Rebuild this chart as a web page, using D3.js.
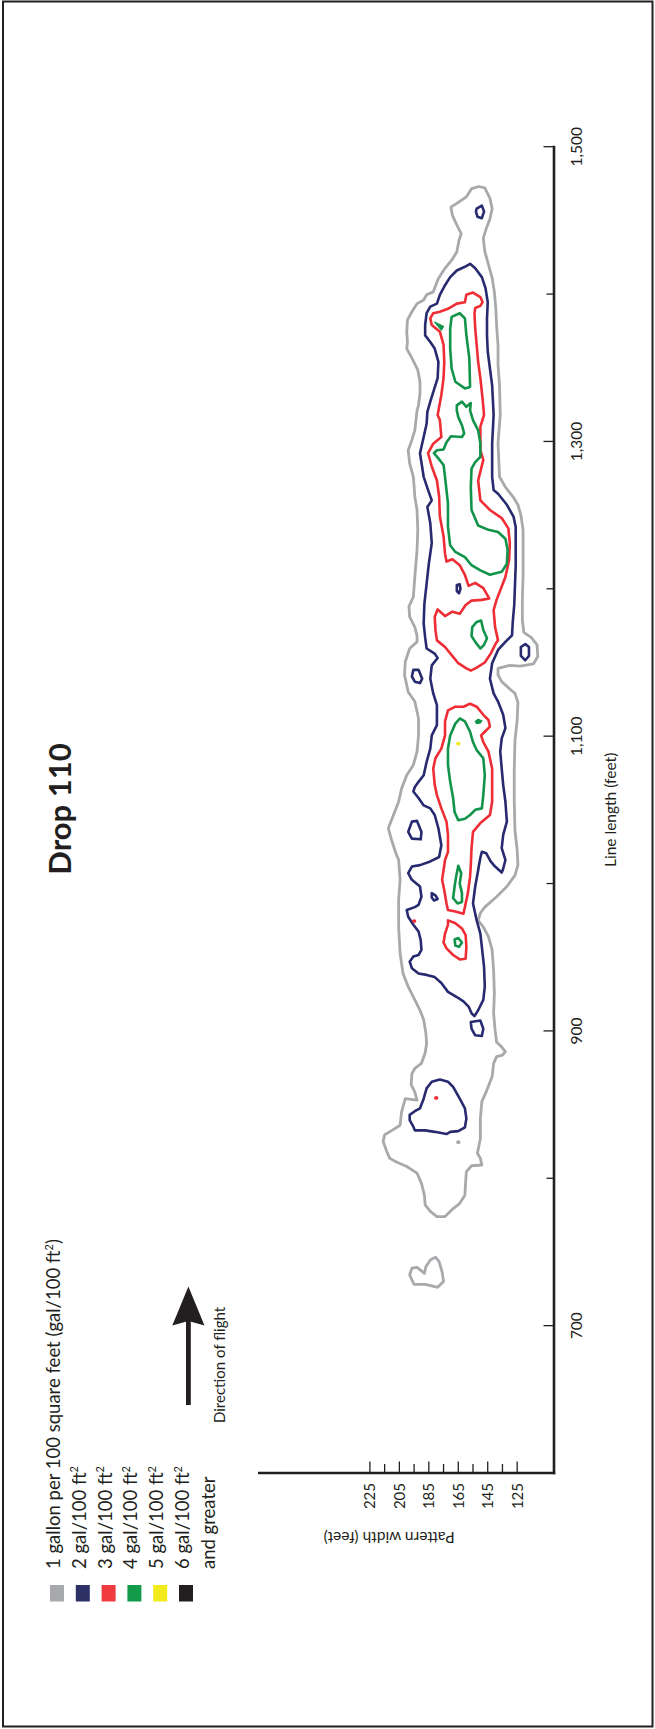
<!DOCTYPE html>
<html>
<head>
<meta charset="utf-8">
<script src="https://cdn.jsdelivr.net/npm/d3@7"></script>
<style>
  html, body { margin: 0; padding: 0; background: #fff; }
  svg { display: block; }
  text { font-family: Lato, "Open Sans", sans-serif; fill: #231f20; }
</style>
</head>
<body>
<svg id="chart" width="655" height="1729"></svg>
<script>
// Drop 110: ground coverage contours, pattern width (ft) against line length (ft)

const lengthTicksMajor = [700, 900, 1100, 1300, 1500];
const lengthTicksMinor = [800, 1000, 1200, 1400];
const widthTicksMajor = [225, 205, 185, 165, 145, 125];
const widthTicksMinor = [215, 195, 175, 155, 135];

const legendLabels = [
  "1 gallon per 100 square feet (gal/100 ft²)",
  "2 gal/100 ft²",
  "3 gal/100 ft²",
  "4 gal/100 ft²",
  "5 gal/100 ft²",
  "6 gal/100 ft²"
];
const legendColors = ["#a7a9ac", "#2e3166", "#ef3b3f", "#139a4a", "#f2ea1a", "#231f20"];

// Contour rings, each point is [pattern width ft, line length ft]
// 1 gal/100 ft²
const gal1Main = [[151,1473],[147,1472],[143.5,1465],[142,1458],[143.5,1451],[146,1444.5],[148,1438],[147,1429],[144.5,1420],[142,1411],[140.5,1401.5],[139.5,1390],[139,1379],[138,1365],[138,1352],[137,1338],[136.5,1318],[138,1299],[137,1276],[133,1269],[127.5,1262],[124.5,1257],[122.5,1250],[121,1240],[121,1226],[121,1209],[121.5,1192],[121.5,1179],[120.5,1170.5],[115.5,1167],[111.5,1162],[111,1154],[114,1149],[123,1147.5],[130,1148],[138,1146],[138,1141.5],[135.5,1137],[130,1132],[126.5,1129],[124.5,1123],[125,1111],[126.5,1097],[127,1077],[127,1056.5],[126.5,1036],[125,1022.5],[124.5,1012.5],[126.5,1005.5],[132,998],[139,991],[147,984],[150,980],[151.5,975],[148,970.5],[144.5,964],[142,955],[141,941],[140.5,925.5],[141,912],[140,900.5],[139,892.5],[135.5,889],[133,886],[135,883.5],[139,882.5],[141,878],[142,869],[145.5,860],[149,852],[150,840.5],[150,827],[152,817],[150,813.5],[149,809],[156,808.5],[159.5,804.5],[160,797.5],[160.5,788.5],[164,783],[169.5,778.5],[174,774],[179.5,774],[184,777.5],[187.5,782],[188,788.5],[190,796.5],[193,803.5],[200,808],[207,811],[211.5,813.5],[213.5,818],[216,825],[215,829.5],[210,832.5],[204.5,836],[203.5,845],[201,854],[193,853],[194.5,858.5],[197,863.5],[196.5,871],[194.5,874.5],[190,878],[187.5,885],[186.5,891.5],[187,898.5],[188.5,907.5],[191,914],[194.5,921],[199,930],[202.5,939],[204.5,952.5],[205.5,970.5],[205.5,989],[204.5,1002.5],[205.5,1016],[207,1019.5],[210,1028.5],[212.5,1037.5],[209,1046.5],[205.5,1055.5],[203.5,1064.5],[200,1073.5],[195.5,1080.5],[193,1089.5],[192,1100.5],[192,1112],[194.5,1123.5],[199,1130],[201.5,1141.5],[201,1150.5],[198,1159.5],[193,1164],[193,1168],[194.5,1174],[198,1181],[198.5,1188],[195.5,1194.5],[194.5,1208],[193,1226.5],[192.5,1240],[193,1253.5],[194.5,1262.5],[195.5,1276],[198,1285],[199,1294],[196.5,1301],[194.5,1307.5],[193,1321],[192,1324.5],[191,1332.5],[191,1340.5],[192.5,1348.5],[196.5,1356.5],[200,1363],[199.5,1367.5],[200,1374.5],[199.5,1382.5],[196.5,1388],[193,1393.5],[188.5,1396],[186.5,1399.5],[182,1401.5],[178.5,1410.5],[174,1417.5],[169.5,1423],[166,1428.5],[164.5,1436.5],[163,1441],[166.5,1448],[169,1453.5],[170,1459],[166,1461.5],[159.5,1466],[156,1471.5]];
const gal1Tail = [[198,734.5],[196.5,739],[193,739.5],[188,735.5],[187,740],[184,744.5],[180.5,746.5],[178,743.5],[176,736.5],[175,730],[179,726],[183,727],[187.5,728],[195,728],[196.5,731]];
const gal1Specks = [[165,824.5]];

// 2 gal/100 ft²
const gal2Main = [[157,1420.5],[153.5,1417.5],[149,1411.5],[146.5,1404],[145,1394.5],[145.5,1383.5],[145.5,1372],[145,1361],[143.5,1349.5],[142,1338],[141,1318],[142,1298.5],[142,1276],[141,1267],[138,1264.5],[132,1257],[127.5,1249],[126,1242],[126,1229.5],[126,1216],[126.5,1202.5],[127,1189],[128,1177.5],[128.5,1168.5],[133,1164],[138,1158.5],[142,1149.5],[143.5,1139],[141,1129],[138,1123.5],[134.5,1114.5],[133,1105.5],[135.5,1098.5],[136.5,1089.5],[135.5,1078],[134.5,1067],[133,1055.5],[132,1042],[134.5,1033],[135.5,1024],[133,1016],[134.5,1010],[135.5,1007.5],[140,1011.5],[143,1015],[146,1020.5],[149,1021.5],[150,1017.5],[151,1012],[151.5,1009],[153.5,998],[155,986.5],[152.5,975],[150,966],[149,957],[147.5,943.5],[147,930],[148,921],[151.5,914],[154,910],[156,912],[158,916.5],[161.5,920],[166,923],[172,926.5],[176.5,932.5],[181,936.5],[186.5,938],[192,939],[196.5,942.5],[198,947],[195.5,950.5],[192,951.5],[190,955],[190.5,961.5],[192,967.5],[195.5,972],[199,977.5],[200,982],[194.5,984],[192,985.5],[190,991],[191,998],[196.5,1002.5],[199,1007],[196.5,1011.5],[191,1012.5],[184,1015],[178,1018],[176.5,1026],[178.5,1037.5],[181,1046.5],[184,1051],[188.5,1053],[192,1058],[195.5,1062.5],[194.5,1065.5],[192,1069],[188.5,1073.5],[186.5,1082.5],[184,1091.5],[183,1100.5],[179.5,1107.5],[179.5,1121],[182,1129],[184,1139],[183,1148],[179,1153],[181,1156],[186.5,1159.5],[187.5,1167],[188.5,1176.5],[188,1190],[186.5,1203.5],[185,1217],[183,1231],[184,1244.5],[186,1255.5],[183,1260],[185.5,1267],[188.5,1276],[191,1292],[188.5,1303],[186.5,1312],[186,1320],[184,1327],[182,1333.5],[179,1343],[178.5,1354],[181,1363],[184,1367.5],[187.5,1372],[187.5,1379],[186.5,1387],[184,1391.5],[179.5,1393.5],[177.5,1399.5],[174,1406],[170.5,1411.5],[166,1416],[160.5,1418.5]];
const gal2Top = [[152.5,1458],[149,1460],[147.5,1456],[149,1451.5],[152,1452.5],[153,1456]];
const gal2Mid = [[166,1202.5],[164,1203],[163.5,1200],[164.5,1197],[166,1198.5]];
const gal2East = [[122.5,1160.5],[119.5,1162.5],[117,1160.5],[117,1154.5],[119.5,1151.5],[122.5,1154.5]];
const gal2West = [[195.5,1145],[192,1145],[189.5,1139],[191,1136],[194.5,1137],[196.5,1140.5]];
const gal2WestLow = [[196.5,1042],[193,1042.5],[190,1035],[190.5,1030],[196.5,1030.5],[199,1035]];
const gal2Dot = [[183,993.5],[180.5,992],[179,989.5],[181.5,988.5],[183,990.5]];
const gal2Tip = [[156.5,906],[150,907],[148,901.5],[149,896.5],[153.5,897],[156,901.5]];
const gal2South = [[183,865.5],[177.5,867],[172,865.5],[168.5,862],[164,854],[160.5,847.5],[159.5,840.5],[160.5,834.5],[165,832],[170.5,831.5],[173,830],[181,831.5],[187.5,832.5],[194.5,832.5],[195.5,835],[198,839.5],[198,843],[194.5,845.5],[191,847.5],[188.5,854],[186.5,861]];

// 3 gal/100 ft²
const gal3Upper = [[155,1401],[150,1398],[148.5,1394.5],[150,1392],[153.5,1390.5],[154,1387],[153.5,1376.5],[152.5,1365.5],[151.5,1354],[150,1343],[148.5,1329],[147.5,1318],[150,1310],[150,1294],[148,1287.5],[150,1279.5],[151.5,1273.5],[150,1260],[143.5,1253.5],[135.5,1248],[131,1241],[130,1231],[130.5,1219.5],[133,1208],[135.5,1201.5],[139,1192.5],[141,1185.5],[140,1174],[138,1165],[139.5,1163],[143,1156],[147,1150],[152.5,1146.5],[156.5,1144.5],[159.5,1146],[165,1149.5],[169.5,1155],[174,1160.5],[179.5,1165],[180.5,1172],[181,1181],[179,1186],[174,1181.5],[169,1184.5],[164,1183],[160,1189],[156,1192],[149,1192.5],[144,1193.5],[148,1200.5],[153.5,1204],[158,1202],[160.5,1209.5],[164,1216],[169,1220],[173,1218.5],[174,1224],[175,1235.5],[177.5,1249],[178,1262.5],[179.5,1273.5],[183,1283],[185.5,1292],[182,1298.5],[176.5,1303],[177.5,1314.5],[179,1318],[176.5,1331.5],[175,1343],[174.5,1354],[175,1365.5],[177.5,1374.5],[183,1379],[184,1383.5],[182,1387],[177.5,1388],[172,1390],[166,1393.5],[160.5,1394.5],[159.5,1399.5]];
const gal3Middle = [[157,1122],[152.5,1120],[148,1114.5],[144.5,1111],[143.5,1106.5],[147,1103],[149.5,1100.5],[148,1096],[144.5,1089.5],[142,1078],[142,1067],[142,1055.5],[143.5,1046.5],[150,1041],[155,1035],[156,1024],[156.5,1012.5],[157,1004.5],[158.5,993.5],[160.5,984],[161.5,979.5],[167,981],[172,982],[173,986.5],[174.5,995.5],[176,1002.5],[175,1009],[174,1016],[172,1021.5],[172,1033],[173,1042],[176.5,1051],[179.5,1060],[181,1067],[182,1078],[180.5,1085],[176.5,1091.5],[174,1100.5],[174,1110],[172,1117.5],[167,1120],[161.5,1120]];
const gal3Lower = [[172,975],[167,973],[162.5,969.5],[160,965],[159.5,957],[160,949],[164,948.5],[168.5,951.5],[173,956],[175,960],[174,966],[172,972]];
const gal3Specks = [[195,974.5],[180,854.5]];

// 4 gal/100 ft²
const gal4North = [[169.5,1384.5],[164,1387],[160.5,1383.5],[159.5,1372],[157.5,1356.5],[157,1337],[160.5,1336],[167,1340.5],[169.5,1349.5],[170.5,1363],[170.5,1376.5]];
const gal4Sliver = [[181,1381],[175,1378],[176.5,1375.5]];
const gal4Upper = [[166,1324.5],[162.5,1327],[159.5,1323.5],[156.5,1326],[157,1321],[155,1314.5],[151.5,1307.5],[150,1298.5],[150,1289.5],[153.5,1286],[156,1281.5],[156.5,1269],[156,1253.5],[151.5,1243],[144.5,1240],[138,1238.5],[133,1234],[131.5,1226.5],[132,1217],[135.5,1211.5],[143.5,1209.5],[150,1212.5],[156,1216],[160.5,1221.5],[167,1225],[170.5,1229.5],[172,1242],[172,1258],[174,1276],[175,1284],[178.5,1288.5],[181.5,1292],[179.5,1294],[175,1294.5],[173,1299.5],[170,1303.5],[162.5,1303],[161,1305.5],[162.5,1311],[165,1316.5],[166,1321]];
const gal4Ring = [[155.5,1174],[152.5,1177.5],[149.5,1178.5],[148,1172],[145.5,1166.5],[147.5,1162],[150,1159.5],[153.5,1164],[156,1168]];
const gal4Middle = [[164,1112],[160.5,1110],[157,1103],[155,1096],[152.5,1090.5],[148,1085],[147,1073.5],[148,1060],[149,1051],[153.5,1050],[157,1046.5],[160.5,1044],[165,1043],[167.5,1048.5],[168.5,1058],[170.5,1069],[172,1080.5],[172,1091.5],[170.5,1100.5],[167,1108.5]];
const gal4Fleck = [[153.5,1110],[151.5,1111.5],[149,1110.5],[150,1109],[152.5,1108.5]];
const gal4Spindle = [[165,1012],[163,1007],[164,1000],[162.5,993.5],[162.5,987.5],[165.5,986.5],[168.5,990],[167.5,998],[166.5,1004.5]];
const gal4Small = [[167.5,962],[165,963],[162.5,960],[164.5,957],[167,958]];

// 5 gal/100 ft²
const gal5Specks = [[165,1095]];

const levels = [
  { color: legendColors[0], width: 2.8, rings: [gal1Main, gal1Tail], filled: [], specks: gal1Specks },
  { color: "#272a6e", width: 2.6, rings: [gal2Main, gal2Top, gal2Mid, gal2East, gal2West, gal2WestLow, gal2Dot, gal2Tip, gal2South], filled: [], specks: [] },
  { color: "#ee2d35", width: 2.6, rings: [gal3Upper, gal3Middle, gal3Lower], filled: [], specks: gal3Specks },
  { color: "#11944a", width: 2.6, rings: [gal4North, gal4Upper, gal4Ring, gal4Middle, gal4Spindle, gal4Small], filled: [gal4Sliver, gal4Fleck], specks: [] },
  { color: legendColors[4], width: 2.6, rings: [], filled: [], specks: gal5Specks }
];

const ink = "#231f20";
const svg = d3.select("#chart");

// frame
svg.append("rect")
  .attr("x", 3).attr("y", 1.5).attr("width", 649.5).attr("height", 1725)
  .attr("fill", "none").attr("stroke", ink).attr("stroke-width", 2);

// scales: width runs right-to-left, length runs bottom-to-top
const x = d3.scaleLinear().domain([100, 301]).range([554, 258]);
const y = d3.scaleLinear().domain([600, 1500]).range([1473, 146.7]);

const ring = d3.line()
  .x(d => x(d[0]))
  .y(d => y(d[1]))
  .curve(d3.curveLinearClosed);

const plot = svg.append("g").attr("class", "contours");
levels.forEach(level => {
  const g = plot.append("g");
  g.selectAll("path.ring").data(level.rings).join("path")
    .attr("class", "ring")
    .attr("d", ring)
    .attr("fill", "none")
    .attr("stroke", level.color)
    .attr("stroke-width", level.width)
    .attr("stroke-linejoin", "round");
  g.selectAll("path.fill").data(level.filled).join("path")
    .attr("class", "fill")
    .attr("d", ring)
    .attr("fill", level.color)
    .attr("stroke", level.color)
    .attr("stroke-width", 1.2)
    .attr("stroke-linejoin", "round");
  g.selectAll("ellipse").data(level.specks).join("ellipse")
    .attr("cx", d => x(d[0]))
    .attr("cy", d => y(d[1]))
    .attr("rx", 2.2).attr("ry", 1.9)
    .attr("fill", level.color);
});

// line length axis (vertical, ticks pointing into the plot)
const yAxis = svg.append("g");
const ax = x(100);
yAxis.append("line")
  .attr("x1", ax).attr("x2", ax)
  .attr("y1", y(1500) - 1).attr("y2", y(600) + 1.2)
  .attr("stroke", ink).attr("stroke-width", 2.6);
yAxis.selectAll("line.major").data(lengthTicksMajor).join("line")
  .attr("class", "major")
  .attr("x1", ax - 10.5).attr("x2", ax)
  .attr("y1", d => y(d)).attr("y2", d => y(d))
  .attr("stroke", ink).attr("stroke-width", 1.3);
yAxis.selectAll("line.minor").data(lengthTicksMinor).join("line")
  .attr("class", "minor")
  .attr("x1", ax - 7.5).attr("x2", ax)
  .attr("y1", d => y(d)).attr("y2", d => y(d))
  .attr("stroke", ink).attr("stroke-width", 1.3);
yAxis.selectAll("text").data(lengthTicksMajor).join("text")
  .attr("transform", d => `translate(582,${y(d)}) rotate(-90)`)
  .attr("text-anchor", "middle")
  .attr("font-size", 15.5)
  .text(d3.format(","));
svg.append("text")
  .attr("transform", `translate(616,${y(1050)}) rotate(-90)`)
  .attr("text-anchor", "middle")
  .attr("font-size", 15.5)
  .text("Line length (feet)");

// pattern width axis (horizontal, ticks pointing up)
const xAxis = svg.append("g");
const ay = y(600);
xAxis.append("line")
  .attr("x1", x(301)).attr("x2", x(100) + 1.2)
  .attr("y1", ay).attr("y2", ay)
  .attr("stroke", ink).attr("stroke-width", 2.6);
xAxis.selectAll("line.major").data(widthTicksMajor).join("line")
  .attr("class", "major")
  .attr("x1", d => x(d)).attr("x2", d => x(d))
  .attr("y1", ay - 11.5).attr("y2", ay)
  .attr("stroke", ink).attr("stroke-width", 1.3);
xAxis.selectAll("line.minor").data(widthTicksMinor).join("line")
  .attr("class", "minor")
  .attr("x1", d => x(d)).attr("x2", d => x(d))
  .attr("y1", ay - 9).attr("y2", ay)
  .attr("stroke", ink).attr("stroke-width", 1.3);
xAxis.selectAll("text").data(widthTicksMajor).join("text")
  .attr("transform", d => `translate(${x(d) + 5.5},${ay + 10}) rotate(-90)`)
  .attr("text-anchor", "end")
  .attr("font-size", 15)
  .text(d => d);
svg.append("text")
  .attr("transform", `translate(${x(212)},1532) rotate(180)`)
  .attr("text-anchor", "middle")
  .attr("font-size", 15.5)
  .text("Pattern width (feet)");

// title
svg.append("text")
  .attr("transform", "translate(70.5,809) rotate(-90)")
  .attr("text-anchor", "middle")
  .attr("font-size", 31)
  .attr("font-weight", 700)
  .text("Drop 110");

// legend
const legend = svg.append("g");
const rowStep = 25.8;
legend.selectAll("rect").data(legendColors).join("rect")
  .attr("x", (d, i) => 50 + i * rowStep)
  .attr("y", 1585)
  .attr("width", 14).attr("height", 16.5)
  .attr("fill", d => d);
const legendText = legend.selectAll("text").data(legendLabels.concat(["and greater"])).join("text")
  .attr("transform", (d, i) => `translate(${60 + i * rowStep},1569) rotate(-90)`)
  .attr("font-size", 18.5);
legendText.each(function (d) {
  const t = d3.select(this);
  const parts = d.split("²");
  t.append("tspan").text(parts[0]);
  if (parts.length > 1) {
    t.append("tspan").attr("font-size", 11).attr("dy", -7.5).text("2");
    if (parts[1]) t.append("tspan").attr("dy", 7.5).text(parts[1]);
  }
});

// direction of flight arrow
const arrow = svg.append("g");
arrow.append("rect")
  .attr("x", 186).attr("y", 1318).attr("width", 4.8).attr("height", 87)
  .attr("fill", ink);
arrow.append("path")
  .attr("d", "M188.4,1286.5 L204.5,1325.5 L188.4,1321 L172.3,1325.5 Z")
  .attr("fill", ink);
svg.append("text")
  .attr("transform", "translate(224.5,1423) rotate(-90)")
  .attr("font-size", 15)
  .text("Direction of flight");
</script>
</body>
</html>
